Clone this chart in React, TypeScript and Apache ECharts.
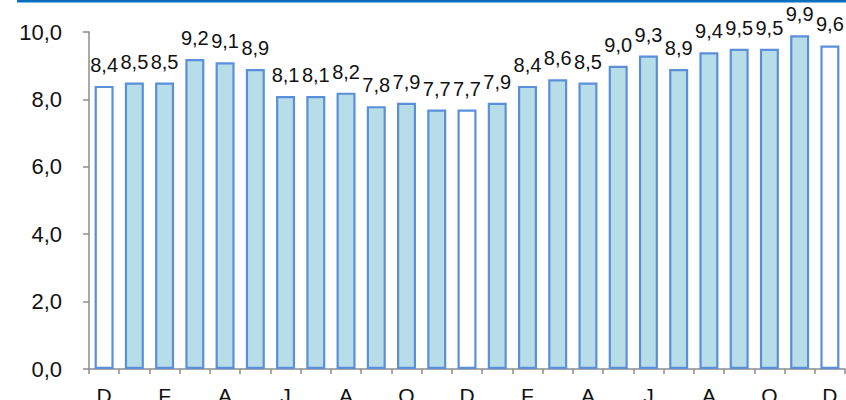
import React, { useEffect, useRef } from "react";
import * as echarts from "echarts";

const months = ["D", "J", "F", "M", "A", "M", "J", "J", "A", "S", "O", "N", "D", "J", "F", "M", "A", "M", "J", "J", "A", "S", "O", "N", "D"];
const values = [8.4, 8.5, 8.5, 9.2, 9.1, 8.9, 8.1, 8.1, 8.2, 7.8, 7.9, 7.7, 7.7, 7.9, 8.4, 8.6, 8.5, 9.0, 9.3, 8.9, 9.4, 9.5, 9.5, 9.9, 9.6];
const whiteBarIndexes = [0, 12, 24];

const FONT = "Arial, 'Liberation Sans', sans-serif";
const fmt = (v: number) => v.toFixed(1).replace(".", ",");

export default function App() {
  const ref = useRef<HTMLDivElement>(null);
  useEffect(() => {
    if (!ref.current) return;
    const chart = echarts.init(ref.current, null, { renderer: "svg" });
    chart.setOption({
      animation: false,
      backgroundColor: "#ffffff",
      grid: { left: 89, right: 1, top: 32, bottom: 31, containLabel: false, outerBoundsMode: "none" },
      graphic: [
        {
          type: "rect",
          shape: { x: 17, y: 0, width: 829, height: 2.5 },
          style: { fill: "#0a6fbf" },
          silent: true,
        },
      ],
      xAxis: {
        type: "category",
        data: months,
        axisLine: { show: true, lineStyle: { color: "#8c8c8c", width: 1.5 } },
        axisTick: { show: true, interval: 0, length: 5, lineStyle: { color: "#8c8c8c", width: 1.5 } },
        axisLabel: { interval: 1, color: "#111", fontSize: 21, fontFamily: FONT, margin: 16 },
        splitLine: { show: false },
      },
      yAxis: {
        type: "value",
        min: 0,
        max: 10,
        interval: 2,
        axisLine: { show: true, lineStyle: { color: "#8c8c8c", width: 1.5 } },
        axisTick: { show: true, length: 6, lineStyle: { color: "#8c8c8c", width: 1.5 } },
        axisLabel: { color: "#111", fontSize: 22, fontFamily: FONT, margin: 27, formatter: (v: number) => fmt(v) },
        splitLine: { show: false },
      },
      series: [
        {
          type: "bar",
          barWidth: 19,
          data: values.map((v, i) => ({
            value: v,
            itemStyle: {
              color: whiteBarIndexes.includes(i) ? "#ffffff" : "#b7dde8",
              borderColor: "#5b8fd9",
              borderWidth: 2.2,
            },
          })),
          label: {
            show: true,
            position: "top",
            distance: 11,
            color: "#111",
            fontSize: 20,
            fontFamily: FONT,
            formatter: (p: any) => fmt(p.value),
          },
        },
      ],
    });
    return () => chart.dispose();
  }, []);
  return <div ref={ref} style={{ position: "fixed", left: 0, top: 0, width: 846, height: 400 }} />;
}
